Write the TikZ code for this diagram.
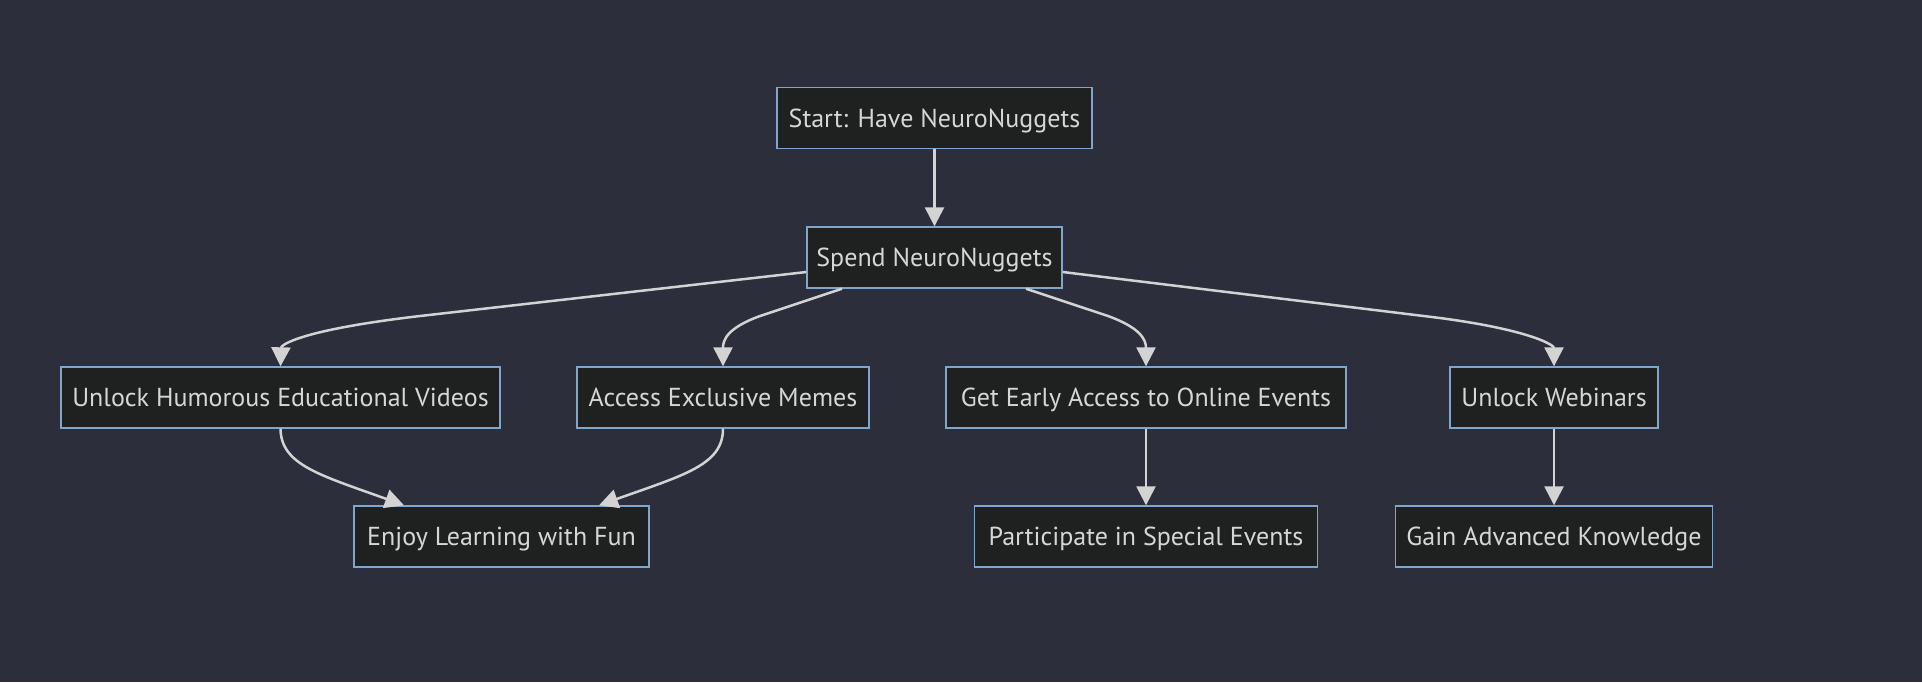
\documentclass[tikz,border=0pt]{standalone}
\usepackage{fontspec}
\setmainfont{PT Sans}
\usetikzlibrary{arrows.meta,calc}
\definecolor{bgc}{RGB}{44,47,59}
\definecolor{boxfill}{RGB}{31,32,32}
\definecolor{boxline}{RGB}{129,166,204}
\definecolor{txt}{RGB}{214,214,214}
\definecolor{edgec}{RGB}{211,211,211}
\tikzset{
  box/.style={draw=boxline, fill=boxfill, line width=0.7pt, minimum height=30.5pt, inner sep=0pt,
    text=txt, font=\fontsize{13}{15}\selectfont, text height=9.1pt, text depth=0pt, anchor=center},
  edge/.style={draw=edgec, line width=1.25pt, -{Triangle[length=9.5pt,width=9.5pt]}}
}
\begin{document}
\begin{tikzpicture}[x=0.5pt,y=-0.5pt]
\fill[bgc] (0,0) rectangle (1922,682);
\useasboundingbox (0,0) rectangle (1922,682);
\node[box, minimum width=157.5pt] (start) at (934.5,118) {Start: Have NeuroNuggets};
\node[box, minimum width=127.5pt] (spend) at (934.5,257.5) {Spend NeuroNuggets};
\node[box, minimum width=219.5pt] (hum) at (280.5,397.5) {Unlock Humorous Educational Videos};
\node[box, minimum width=146pt] (memes) at (723,397.5) {Access Exclusive Memes};
\node[box, minimum width=200pt] (early) at (1146,397.5) {Get Early Access to Online Events};
\node[box, minimum width=104pt] (web) at (1554,397.5) {Unlock Webinars};
\node[box, minimum width=147.5pt] (enjoy) at (501.5,536.5) {Enjoy Learning with Fun};
\node[box, minimum width=171.5pt] (part) at (1146,536.5) {Participate in Special Events};
\node[box, minimum width=158.5pt] (gain) at (1554,536.5) {Gain Advanced Knowledge};

\draw[edge] (start.south) -- (spend.north);
\draw[edge] ($(spend.west)+(0,14.5)$) -- (420,316) .. controls (300,330) and (281,345) .. (hum.north);
\draw[edge] ($(spend.south)+(-92.5,0)$) -- (760,316) .. controls (727,328) and (723,340) .. (memes.north);
\draw[edge] ($(spend.south)+(91.5,0)$) -- (1108,316) .. controls (1141,328) and (1146,340) .. (early.north);
\draw[edge] ($(spend.east)+(0,14.5)$) -- (1440,318) .. controls (1530,330) and (1554,345) .. (web.north);
\draw[edge] (hum.south) .. controls (281,465) and (320,475) .. ($(enjoy.north)+(-97.5,0)$);
\draw[edge] (memes.south) .. controls (723,465) and (684,475) .. ($(enjoy.north)+(97.5,0)$);
\draw[edge] (early.south) -- (part.north);
\draw[edge] (web.south) -- (gain.north);
\end{tikzpicture}
\end{document}
